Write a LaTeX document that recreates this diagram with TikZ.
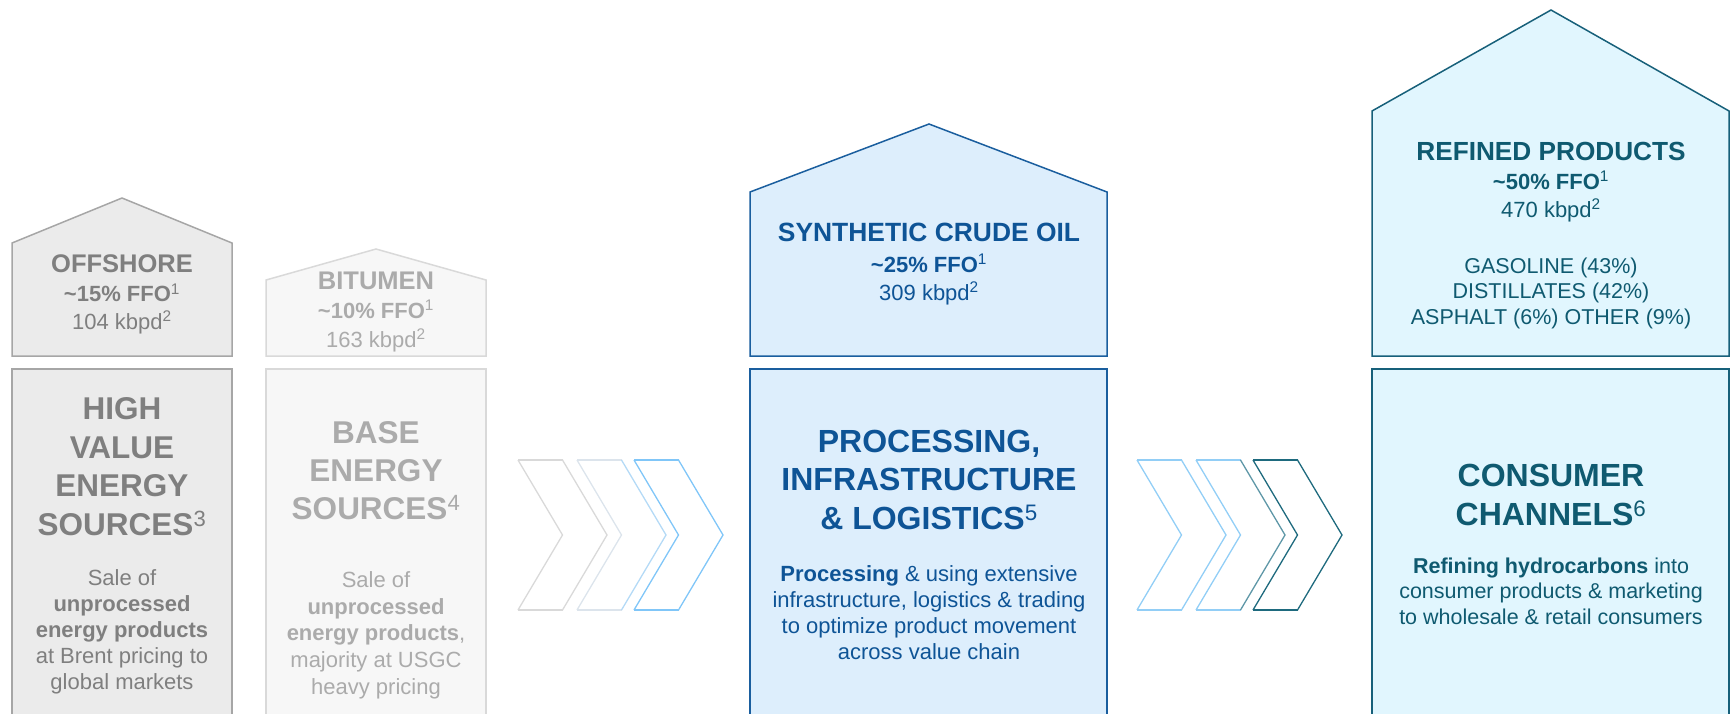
\documentclass[tikz,border=0pt]{standalone}
\usepackage{fontspec}
\setmainfont{Liberation Sans}

\definecolor{offline}{HTML}{A6A6A6}
\definecolor{offfill}{HTML}{EBEBEB}
\definecolor{offtext}{HTML}{7F7F7F}
\definecolor{bitline}{HTML}{D9D9D9}
\definecolor{bitfill}{HTML}{F7F7F7}
\definecolor{bittext}{HTML}{ABABAB}
\definecolor{synline}{HTML}{1A5E9E}
\definecolor{synfill}{HTML}{DDEEFC}
\definecolor{syntext}{HTML}{0E5496}
\definecolor{refline}{HTML}{17607A}
\definecolor{reffill}{HTML}{E1F6FE}
\definecolor{reftext}{HTML}{0F5A70}
\definecolor{chgray}{HTML}{D9D9D9}
\definecolor{chgrayblue}{HTML}{DCE4EC}
\definecolor{chpale}{HTML}{B4DAF6}
\definecolor{chblue}{HTML}{80C6F8}
\definecolor{chlight}{HTML}{92CEF6}
\definecolor{chmid}{HTML}{5E97A7}
\definecolor{chteal}{HTML}{1E6A7E}

\newcommand\fsz[2]{\fontsize{#1}{#2}\selectfont}
\newcommand\fnote[1]{\textsuperscript{\mdseries#1}}
% chevron: left x, colour of notch side, colour of tip side
\newcommand\chevron[3]{%
  \draw[chev, draw=#2] (#1,460) -- (#1+44.5,460) (#1,610) -- (#1+44.5,610);
  \draw[chev, draw=#2] (#1,460) -- (#1+44.5,535) -- (#1,610);
  \draw[chev, draw=#3] (#1+44.5,460) -- (#1+89,535) -- (#1+44.5,610);}

\tikzset{
  box/.style={line width=1.5pt, line join=miter},
  offbox/.style={box, draw=offline, fill=offfill},
  bitbox/.style={box, draw=bitline, fill=bitfill},
  synbox/.style={box, draw=synline, fill=synfill},
  refbox/.style={box, draw=refline, fill=reffill},
  txt/.style={inner sep=0pt, align=center},
  chev/.style={line width=1.3pt, line join=miter}
}

\begin{document}
\begin{tikzpicture}[x=1pt, y=-1pt]
\useasboundingbox (0,0) rectangle (1735,713);
\clip (0,0) rectangle (1735,713);

% offshore
\draw[offbox] (12,356) -- (12,243) -- (122,198) -- (232,243) -- (232,356) -- cycle;
\draw[offbox] (12,369) rectangle (232,730);
\node[txt, text=offtext, anchor=base, font=\bfseries\fsz{25.5}{29}] (offname) at (122,272.7) {OFFSHORE};
\node[txt, text=offtext, anchor=base, font=\bfseries\fsz{22}{26}] (offffo) at (122,301.7) {\textasciitilde15\% FFO\fnote{1}};
\node[txt, text=offtext, anchor=base, font=\fsz{22}{26}] (offkbpd) at (122,329.5) {104 kbpd\fnote{2}};
\node[txt, text=offtext, anchor=north, font=\bfseries\fsz{31.5}{38.5}] (offhead) at (122,397.4) {HIGH\\VALUE\\ENERGY\\SOURCES\fnote{3}};
\node[txt, text=offtext, anchor=north, font=\fsz{22}{26}] (offbody) at (122,569.2)
  {Sale of\\\textbf{unprocessed}\\\textbf{energy products}\\at Brent pricing to\\global markets};

% bitumen
\draw[bitbox] (266,356) -- (266,280) -- (376,249) -- (486,280) -- (486,356) -- cycle;
\draw[bitbox] (266,369) rectangle (486,730);
\node[txt, text=bittext, anchor=base, font=\bfseries\fsz{25.5}{29}] (bitname) at (376,289) {BITUMEN};
\node[txt, text=bittext, anchor=base, font=\bfseries\fsz{22}{26}] (bitffo) at (376,318) {\textasciitilde10\% FFO\fnote{1}};
\node[txt, text=bittext, anchor=base, font=\fsz{22}{26}] (bitkbpd) at (376,347) {163 kbpd\fnote{2}};
\node[txt, text=bittext, anchor=north, font=\bfseries\fsz{31.5}{38}] (bithead) at (376,421.4) {BASE\\ENERGY\\SOURCES\fnote{4}};
\node[txt, text=bittext, anchor=north, font=\fsz{22}{26.7}] (bitbody) at (376,571.2)
  {Sale of\\\textbf{unprocessed}\\\textbf{energy products},\\majority at USGC\\heavy pricing};

% chevrons
\chevron{518}{chgray}{chgray}
\chevron{577}{chgrayblue}{chpale}
\chevron{634}{chblue}{chblue}

% synthetic crude oil
\draw[synbox] (750,356) -- (750,192) -- (929,124) -- (1107,192) -- (1107,356) -- cycle;
\draw[synbox] (750,369) rectangle (1107,730);
\node[txt, text=syntext, anchor=base, font=\bfseries\fsz{26.4}{30}] (synname) at (929,241) {SYNTHETIC CRUDE OIL};
\node[txt, text=syntext, anchor=base, font=\bfseries\fsz{22}{26}] (synffo) at (929,272) {\textasciitilde25\% FFO\fnote{1}};
\node[txt, text=syntext, anchor=base, font=\fsz{22}{26}] (synkbpd) at (929,300) {309 kbpd\fnote{2}};
\node[txt, text=syntext, anchor=north, font=\bfseries\fsz{32}{38.75}] (synhead) at (929,429.6) {PROCESSING,\\INFRASTRUCTURE\\\& LOGISTICS\fnote{5}};
\node[txt, text=syntext, anchor=north, font=\fsz{22}{26}] (synbody) at (929,565.2)
  {\textbf{Processing} \& using extensive\\infrastructure, logistics \& trading\\to optimize product movement\\across value chain};

% chevrons
\chevron{1137}{chlight}{chlight}
\chevron{1196}{chlight}{chmid}
\chevron{1253}{chteal}{chteal}

% refined products
\draw[refbox] (1372,356) -- (1372,111) -- (1551,10) -- (1729,111) -- (1729,356) -- cycle;
\draw[refbox] (1372,369) rectangle (1729,730);
\node[txt, text=reftext, anchor=base, font=\bfseries\fsz{26.2}{30}] (refname) at (1551,160) {REFINED PRODUCTS};
\node[txt, text=reftext, anchor=base, font=\bfseries\fsz{22}{26}] (refffo) at (1551,189) {\textasciitilde50\% FFO\fnote{1}};
\node[txt, text=reftext, anchor=base, font=\fsz{22}{26}] (refkbpd) at (1551,217) {470 kbpd\fnote{2}};
\node[txt, text=reftext, anchor=north, font=\fsz{21.5}{25.5}] (refmix) at (1551,257.6)
  {GASOLINE (43\%)\\DISTILLATES (42\%)\\ASPHALT (6\%) OTHER (9\%)};
\node[txt, text=reftext, anchor=north, font=\bfseries\fsz{32}{39.4}] (refhead) at (1551,463.7) {CONSUMER\\CHANNELS\fnote{6}};
\node[txt, text=reftext, anchor=north, font=\fsz{21.5}{25.5}] (refbody) at (1551,557.6)
  {\textbf{Refining hydrocarbons} into\\consumer products \& marketing\\to wholesale \& retail consumers};
\end{tikzpicture}
\end{document}
